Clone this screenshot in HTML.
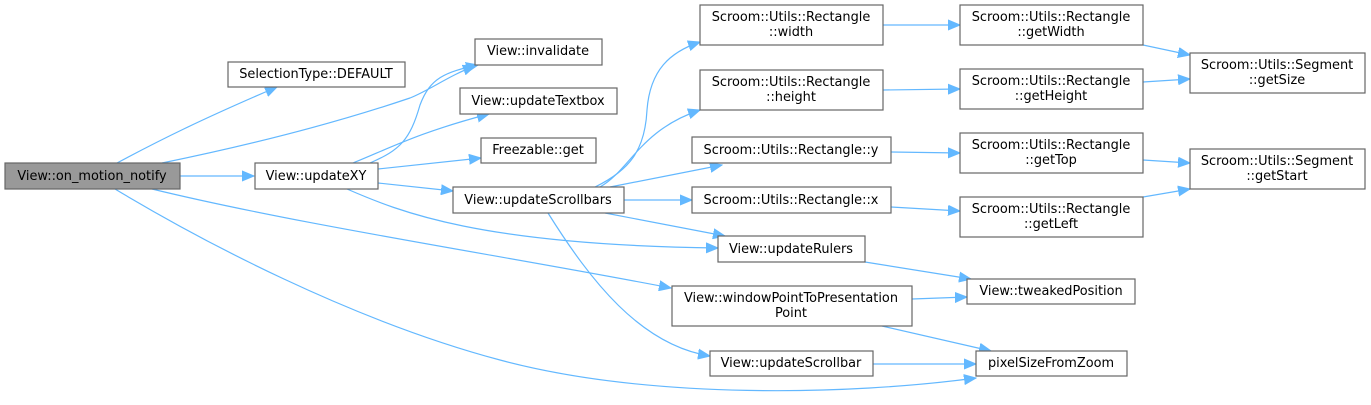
<!DOCTYPE html>
<html><head><meta charset="utf-8"><style>
html,body{margin:0;padding:0;background:#fff;}
svg{display:block;}
text{font-family:"DejaVu Sans","Liberation Sans",sans-serif;font-size:12.9px;fill:#000;text-anchor:middle;}
.n{fill:#fff;stroke:#666;stroke-width:1.2;}
.e{fill:none;stroke:#63b8ff;stroke-width:1.2;}
</style></head><body>
<svg width="1371" height="405" viewBox="0 0 1371 405" xmlns="http://www.w3.org/2000/svg">
<defs><marker id="a" markerUnits="userSpaceOnUse" markerWidth="13" markerHeight="11" refX="12" refY="5.5" orient="auto"><path d="M0,0.5 L12,5.5 L0,10.5 Z" fill="#63b8ff" stroke="#63b8ff"/></marker></defs>
<g marker-end="url(#a)">
<path class="e" d="M117,163 C160,140 200,120 277,87"/>
<path class="e" d="M162,163 C250,145 330,125 410,98 C430,90 450,75 475,66"/>
<path class="e" d="M180,176 L254,176"/>
<path class="e" d="M152,189 C300,225 500,255 671,288"/>
<path class="e" d="M115,189 C200,240 350,320 500,360 C650,400 850,395 976,378"/>
<path class="e" d="M370,163 C400,150 410,140 420,105 C430,78 445,72 478,65"/>
<path class="e" d="M353,163 C390,148 420,132 489,114"/>
<path class="e" d="M378,169 L481,158"/>
<path class="e" d="M378,183 L453,191"/>
<path class="e" d="M347,189 C400,212 480,245 718,248"/>
<path class="e" d="M595,187 C630,170 645,150 647,110 C650,70 670,52 700,42"/>
<path class="e" d="M600,187 C630,170 640,130 700,110"/>
<path class="e" d="M610,187 L722,165"/>
<path class="e" d="M624,200 L692,200"/>
<path class="e" d="M605,213 L725,236"/>
<path class="e" d="M548,213 C590,280 640,345 710,356"/>
<path class="e" d="M883,25 L960,25"/>
<path class="e" d="M883,90 L960,89"/>
<path class="e" d="M891,152 L960,153"/>
<path class="e" d="M891,207 L960,211"/>
<path class="e" d="M1143,45 L1190,55"/>
<path class="e" d="M1143,82 L1190,79"/>
<path class="e" d="M1143,160 L1190,163"/>
<path class="e" d="M1143,197 L1190,189"/>
<path class="e" d="M865,262 L971,279"/>
<path class="e" d="M912,299 L967,297"/>
<path class="e" d="M882,326 L991,351"/>
<path class="e" d="M873,364 L976,364"/>
</g>
<rect x="5" y="163" width="175" height="26" fill="#999" stroke="#666" stroke-width="1.2"/><text x="92" y="180">View::on_motion_notify</text>
<rect class="n" x="228" y="62" width="177" height="25"/><text x="316" y="78">SelectionType::DEFAULT</text>
<rect class="n" x="255" y="163" width="123" height="26"/><text x="316" y="180">View::updateXY</text>
<rect class="n" x="475" y="39" width="127" height="26"/><text x="538" y="55">View::invalidate</text>
<rect class="n" x="460" y="88" width="157" height="26"/><text x="538" y="105">View::updateTextbox</text>
<rect class="n" x="481" y="138" width="115" height="25"/><text x="538" y="154">Freezable::get</text>
<rect class="n" x="453" y="187" width="171" height="26"/><text x="538" y="204">View::updateScrollbars</text>
<rect class="n" x="700" y="5" width="183" height="40"/><text x="791" y="21">Scroom::Utils::Rectangle</text><text x="791" y="36">::width</text>
<rect class="n" x="700" y="70" width="183" height="40"/><text x="791" y="86">Scroom::Utils::Rectangle</text><text x="791" y="101">::height</text>
<rect class="n" x="692" y="137" width="199" height="26"/><text x="791" y="154">Scroom::Utils::Rectangle::y</text>
<rect class="n" x="692" y="187" width="199" height="26"/><text x="791" y="204">Scroom::Utils::Rectangle::x</text>
<rect class="n" x="718" y="236" width="147" height="26"/><text x="791" y="253">View::updateRulers</text>
<rect class="n" x="672" y="286" width="240" height="40"/><text x="791" y="302">View::windowPointToPresentation</text><text x="791" y="317">Point</text>
<rect class="n" x="710" y="351" width="163" height="25"/><text x="791" y="367">View::updateScrollbar</text>
<rect class="n" x="960" y="5" width="183" height="40"/><text x="1051" y="21">Scroom::Utils::Rectangle</text><text x="1051" y="36">::getWidth</text>
<rect class="n" x="960" y="69" width="183" height="40"/><text x="1051" y="85">Scroom::Utils::Rectangle</text><text x="1051" y="100">::getHeight</text>
<rect class="n" x="960" y="133" width="183" height="40"/><text x="1051" y="149">Scroom::Utils::Rectangle</text><text x="1051" y="164">::getTop</text>
<rect class="n" x="960" y="197" width="183" height="40"/><text x="1051" y="213">Scroom::Utils::Rectangle</text><text x="1051" y="228">::getLeft</text>
<rect class="n" x="1190" y="53" width="175" height="40"/><text x="1277" y="69">Scroom::Utils::Segment</text><text x="1277" y="84">::getSize</text>
<rect class="n" x="1190" y="149" width="175" height="40"/><text x="1277" y="165">Scroom::Utils::Segment</text><text x="1277" y="180">::getStart</text>
<rect class="n" x="967" y="279" width="168" height="25"/><text x="1051" y="295">View::tweakedPosition</text>
<rect class="n" x="976" y="351" width="151" height="25"/><text x="1051" y="367">pixelSizeFromZoom</text>
</svg>
</body></html>
